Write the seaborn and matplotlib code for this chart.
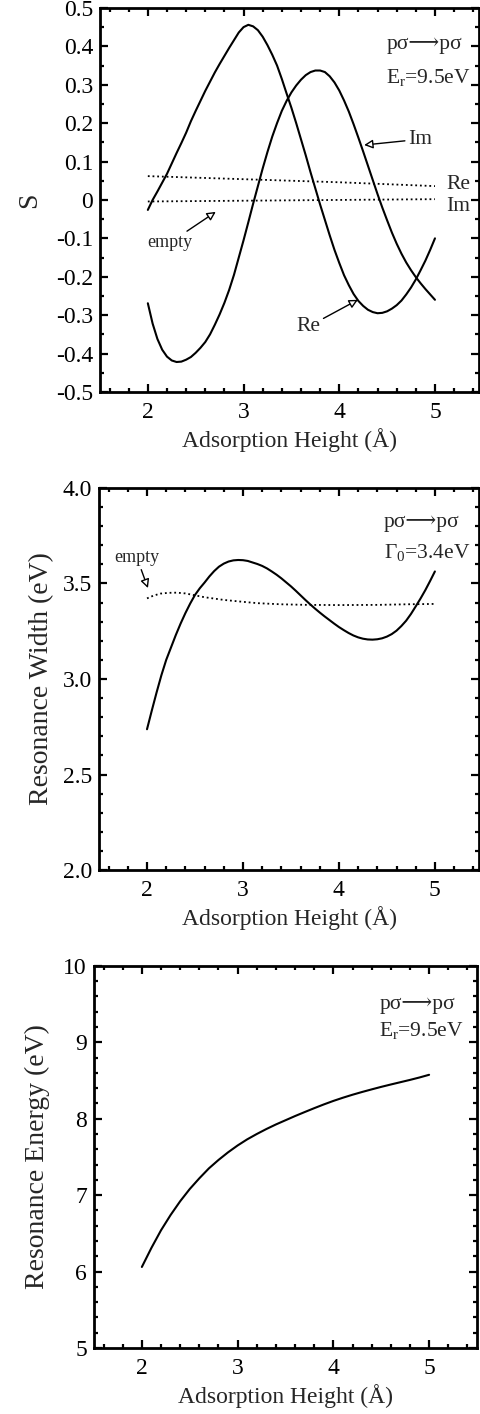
import numpy as np
import pandas as pd
import matplotlib
matplotlib.use("Agg")
import matplotlib.pyplot as plt
import seaborn as sns

# ---- data -------------------------------------------------------------
# overlap S with adsorbate (real and imaginary parts)
s_h = [2.00, 2.05, 2.10, 2.15, 2.20, 2.25, 2.30, 2.35, 2.40, 2.45, 2.50, 2.55,
       2.60, 2.65, 2.70, 2.75, 2.80, 2.85, 2.90, 2.95, 3.00, 3.05, 3.10, 3.15,
       3.20, 3.25, 3.30, 3.35, 3.40, 3.45, 3.50, 3.55, 3.60, 3.65, 3.70, 3.75,
       3.80, 3.85, 3.90, 3.95, 4.00, 4.05, 4.10, 4.15, 4.20, 4.25, 4.30, 4.35,
       4.40, 4.45, 4.50, 4.55, 4.60, 4.65, 4.70, 4.75, 4.80, 4.85, 4.90, 4.95,
       5.00]
s_re = [-0.026, 0.000, 0.022, 0.045, 0.068, 0.095, 0.122, 0.148, 0.175, 0.205,
        0.232, 0.258, 0.284, 0.308, 0.332, 0.354, 0.375, 0.396, 0.416, 0.436,
        0.450, 0.456, 0.452, 0.442, 0.425, 0.403, 0.378, 0.350, 0.315, 0.277,
        0.240, 0.200, 0.158, 0.116, 0.072, 0.030, -0.012, -0.052, -0.092,
        -0.130, -0.164, -0.196, -0.222, -0.245, -0.263, -0.276, -0.286, -0.292,
        -0.295, -0.294, -0.290, -0.283, -0.274, -0.262, -0.246, -0.228, -0.207,
        -0.183, -0.158, -0.130, -0.100]
s_im = [-0.269, -0.322, -0.362, -0.390, -0.408, -0.418, -0.422, -0.421, -0.416,
        -0.409, -0.398, -0.385, -0.370, -0.350, -0.325, -0.298, -0.268, -0.234,
        -0.195, -0.150, -0.105, -0.058, -0.010, 0.036, 0.082, 0.125, 0.165,
        0.200, 0.232, 0.258, 0.280, 0.298, 0.313, 0.325, 0.333, 0.337, 0.337,
        0.333, 0.322, 0.306, 0.285, 0.259, 0.230, 0.197, 0.162, 0.126, 0.089,
        0.052, 0.015, -0.020, -0.053, -0.085, -0.114, -0.140, -0.163, -0.183,
        -0.201, -0.217, -0.232, -0.246, -0.260]

# overlap S for the empty surface
empty_h = [2.0, 2.5, 3.0, 3.5, 4.0, 4.5, 5.0]
s_re_empty = [0.062, 0.058, 0.054, 0.050, 0.046, 0.041, 0.036]
s_im_empty = [-0.004, -0.003, -0.002, -0.001, 0.0, 0.001, 0.002]

# resonance width
w_h = s_h
width = [2.737, 2.835, 2.930, 3.020, 3.100, 3.165, 3.230, 3.290, 3.345, 3.395,
         3.440, 3.475, 3.505, 3.537, 3.565, 3.588, 3.604, 3.615, 3.621, 3.623,
         3.622, 3.618, 3.610, 3.602, 3.592, 3.579, 3.563, 3.546, 3.527, 3.506,
         3.485, 3.462, 3.438, 3.414, 3.391, 3.369, 3.348, 3.328, 3.309, 3.290,
         3.272, 3.256, 3.241, 3.228, 3.218, 3.211, 3.207, 3.206, 3.208, 3.213,
         3.222, 3.235, 3.253, 3.277, 3.305, 3.340, 3.380, 3.421, 3.465, 3.513,
         3.563]
width_empty_h = [2.0, 2.07, 2.14, 2.22, 2.31, 2.40, 2.48, 2.6, 2.8, 3.0, 3.15,
                 3.4, 3.67, 4.0, 4.4, 4.7, 5.0]
width_empty = [3.422, 3.437, 3.447, 3.451, 3.452, 3.448, 3.440, 3.428, 3.414,
               3.404, 3.397, 3.391, 3.388, 3.387, 3.388, 3.391, 3.393]

# resonance energy
energy_h = [2.0, 2.1, 2.2, 2.3, 2.4, 2.5, 2.6, 2.7, 2.8, 2.9, 3.0, 3.1, 3.2,
            3.3, 3.4, 3.5, 3.6, 3.7, 3.8, 3.9, 4.0, 4.1, 4.2, 4.3, 4.4, 4.5,
            4.6, 4.7, 4.8, 4.9, 5.0]
energy = [6.06, 6.31, 6.54, 6.74, 6.92, 7.08, 7.22, 7.35, 7.46, 7.56, 7.65,
          7.73, 7.80, 7.865, 7.925, 7.98, 8.035, 8.087, 8.138, 8.187, 8.233,
          8.275, 8.314, 8.35, 8.384, 8.417, 8.448, 8.478, 8.508, 8.54, 8.575]

x_label = "Adsorption Height (Å)"
transition = "pσ⟶pσ"

# ---- style ------------------------------------------------------------
sns.set_theme(style="ticks")
serif = ["Liberation Serif", "DejaVu Serif", "DejaVu Sans"]
plt.rcParams.update({
    "font.family": serif,
    "mathtext.fontset": "custom",
    "mathtext.rm": "Liberation Serif",
    "mathtext.it": "Liberation Serif:italic",
    "axes.linewidth": 2.0,
    "axes.edgecolor": "black",
    "xtick.direction": "in",
    "ytick.direction": "in",
    "xtick.top": True,
    "ytick.right": True,
    "xtick.major.size": 5.5,
    "ytick.major.size": 5.5,
    "xtick.minor.size": 2.8,
    "ytick.minor.size": 2.8,
    "xtick.major.width": 1.6,
    "ytick.major.width": 1.6,
    "xtick.minor.width": 1.6,
    "ytick.minor.width": 1.6,
    "xtick.major.pad": 7,
    "ytick.major.pad": 5,
    "xtick.color": "black",
    "ytick.color": "black",
    "xtick.labelsize": 17,
    "ytick.labelsize": 17,
})

fig = plt.figure(figsize=(4.8, 14.14), dpi=100)
ax1 = fig.add_axes([0.2083, 0.7228, 0.7896, 0.2716])
ax2 = fig.add_axes([0.2063, 0.3847, 0.7917, 0.2702])
ax3 = fig.add_axes([0.1958, 0.0467, 0.7979, 0.2702])

solid = dict(color="black", lw=1.5)
dotted = dict(color="black", lw=1.3, linestyle=(0, (1, 1.6)))
hollow = dict(arrowstyle="-|>", fc="white", ec="black", lw=1.0,
              mutation_scale=13, shrinkA=0, shrinkB=0)
ann_size = 15.5

def frame(ax, ylim, ymajor, yminor, yfmt):
    ax.set_xlim(1.5, 5.46)
    ax.set_ylim(*ylim)
    ax.xaxis.set_major_locator(matplotlib.ticker.MultipleLocator(1))
    ax.xaxis.set_minor_locator(matplotlib.ticker.MultipleLocator(0.2))
    ax.yaxis.set_major_locator(matplotlib.ticker.MultipleLocator(ymajor))
    ax.yaxis.set_minor_locator(matplotlib.ticker.MultipleLocator(yminor))
    ax.yaxis.set_major_formatter(matplotlib.ticker.FuncFormatter(yfmt))
    ax.tick_params(which="both", top=True, right=True)
    ax.set_xlabel(x_label, fontsize=17, labelpad=4)
    for side in ["top", "right", "bottom", "left"]:
        ax.spines[side].set_visible(True)

def fmt_s(v, _):
    return "0" if abs(v) < 1e-9 else f"{v:.1f}"

# ---- panel 1: overlap -------------------------------------------------
sns.lineplot(x=s_h, y=s_re, ax=ax1, **solid)
sns.lineplot(x=s_h, y=s_im, ax=ax1, **solid)
sns.lineplot(x=empty_h, y=s_re_empty, ax=ax1, **dotted)
sns.lineplot(x=empty_h, y=s_im_empty, ax=ax1, **dotted)
frame(ax1, (-0.5, 0.5), 0.1, 0.05, fmt_s)
ax1.set_ylabel("S", fontsize=20, labelpad=10)
ax1.text(4.49, 0.404, transition, fontsize=ann_size, va="center")
ax1.text(4.49, 0.318, r"E$_\mathrm{r}$=9.5eV", fontsize=ann_size, va="center")
ax1.annotate("Im", xy=(4.26, 0.143), xytext=(4.72, 0.158), fontsize=ann_size,
             va="center", arrowprops=hollow)
ax1.annotate("Re", xy=(4.195, -0.26), xytext=(3.55, -0.33), fontsize=ann_size,
             va="center", arrowprops=hollow)
ax1.annotate("empty", xy=(2.71, -0.031), xytext=(1.99, -0.112), fontsize=13,
             va="center", arrowprops=hollow)
ax1.text(5.12, 0.039, "Re", fontsize=ann_size, va="center")
ax1.text(5.12, -0.018, "Im", fontsize=ann_size, va="center")

# ---- panel 2: resonance width ----------------------------------------
sns.lineplot(x=w_h, y=width, ax=ax2, **solid)
sns.lineplot(x=width_empty_h, y=width_empty, ax=ax2, **dotted)
frame(ax2, (2.0, 4.0), 0.5, 0.1, lambda v, _: f"{v:.1f}")
ax2.set_ylabel("Resonance Width (eV)", fontsize=20, labelpad=6)
ax2.text(4.47, 3.817, transition, fontsize=ann_size, va="center")
ax2.text(4.47, 3.66, r"$\Gamma_\mathrm{0}$=3.4eV", fontsize=ann_size, va="center")
ax2.annotate("empty", xy=(2.01, 3.476), xytext=(1.66, 3.634), fontsize=13,
             va="center", arrowprops=hollow)

# ---- panel 3: resonance energy ---------------------------------------
sns.lineplot(x=energy_h, y=energy, ax=ax3, **solid)
frame(ax3, (5, 10), 1, 0.2, lambda v, _: f"{v:.0f}")
ax3.set_xlim(1.5, 5.5)
ax3.set_ylabel("Resonance Energy (eV)", fontsize=20, labelpad=10)
ax3.text(4.48, 9.49, transition, fontsize=ann_size, va="center")
ax3.text(4.48, 9.16, r"E$_\mathrm{r}$=9.5eV", fontsize=ann_size, va="center")

for ax in (ax1, ax2, ax3):
    leg = ax.get_legend()
    if leg is not None:
        leg.remove()

fig.savefig("out.png", dpi=100, facecolor="white")
